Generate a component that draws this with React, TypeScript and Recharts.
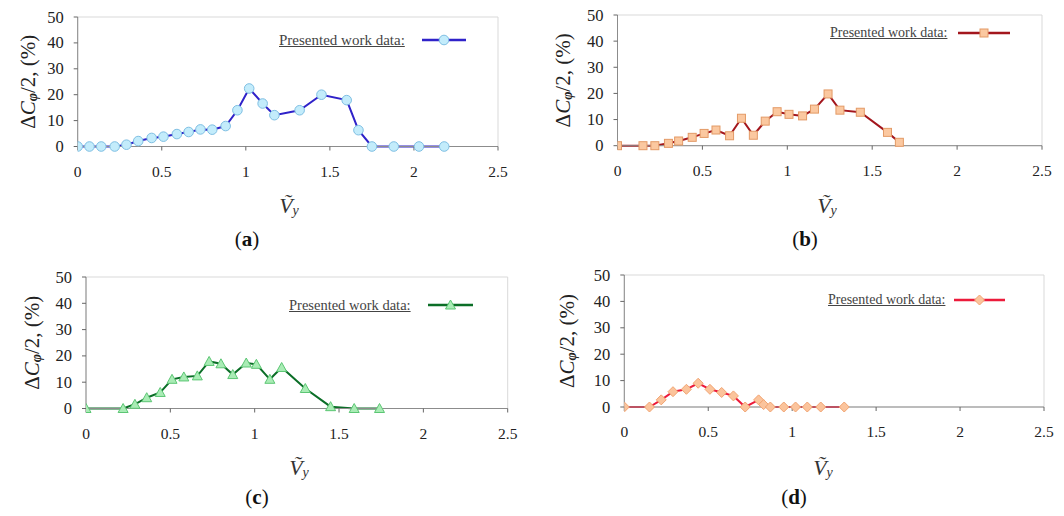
import React from 'react';
import { LineChart, Line, XAxis, YAxis, ReferenceArea } from 'recharts';

// ΔCφ/2 (%) against normalised velocity Ṽy, four test cases
const vyA = [0, 0.07, 0.14, 0.22, 0.29, 0.36, 0.44, 0.51, 0.59, 0.66, 0.73, 0.8, 0.88, 0.95, 1.02, 1.1, 1.17, 1.32, 1.45, 1.6, 1.67, 1.75, 1.88, 2.03, 2.18];
const dcA = [0, 0, 0, 0, 0.7, 2.1, 3.3, 3.8, 4.8, 5.6, 6.6, 6.5, 7.9, 14, 22.4, 16.6, 12.1, 14, 20, 17.9, 6.3, 0, 0, 0, 0];

const vyB = [0, 0.15, 0.22, 0.3, 0.36, 0.44, 0.51, 0.58, 0.66, 0.73, 0.8, 0.87, 0.94, 1.01, 1.09, 1.16, 1.24, 1.31, 1.43, 1.59, 1.66];
const dcB = [0, 0, 0, 0.9, 1.8, 3.2, 4.7, 6.0, 3.8, 10.5, 4.0, 9.4, 13, 12, 11.4, 14, 19.8, 13.6, 12.8, 5.1, 1.3];

const vyC = [0, 0.22, 0.29, 0.36, 0.44, 0.51, 0.58, 0.66, 0.73, 0.8, 0.87, 0.95, 1.01, 1.09, 1.16, 1.3, 1.45, 1.59, 1.74];
const dcC = [0, 0, 1.6, 4.1, 6.1, 11.1, 12, 12.4, 17.9, 17, 12.9, 17.3, 16.8, 11.1, 15.6, 7.6, 0.7, 0, 0];

const vyD = [0, 0.15, 0.22, 0.29, 0.37, 0.44, 0.51, 0.58, 0.65, 0.72, 0.8, 0.83, 0.87, 0.95, 1.02, 1.09, 1.17, 1.31];
const dcD = [0, 0, 2.7, 5.8, 6.7, 9, 6.7, 5.5, 4.2, 0, 2.7, 0.9, 0, 0, 0, 0, 0, 0];

const xTicks = [0, 0.5, 1, 1.5, 2, 2.5];
const yTicks = [0, 10, 20, 30, 40, 50];
const legendText = 'Presented work data:';

const FONT = '"Liberation Serif", "Times New Roman", serif';
const Y_AXIS_W = 50;
const X_AXIS_H = 30;

type Marker = 'circle' | 'square' | 'triangle' | 'diamond';

const drawMarker = (shape: Marker, cx: number, cy: number, fill: string, stroke: string, key?: string | number) => {
  switch (shape) {
    case 'square':
      return <rect key={key} x={cx - 4} y={cy - 4} width={8} height={8} fill={fill} stroke={stroke} strokeWidth={1} />;
    case 'triangle':
      return (
        <polygon key={key} points={`${cx},${cy - 5} ${cx + 5},${cy + 4} ${cx - 5},${cy + 4}`}
          fill={fill} stroke={stroke} strokeWidth={1} />
      );
    case 'diamond':
      return (
        <polygon key={key} points={`${cx},${cy - 5} ${cx + 5},${cy} ${cx},${cy + 5} ${cx - 5},${cy}`}
          fill={fill} stroke={stroke} strokeWidth={1} />
      );
    default:
      return <circle key={key} cx={cx} cy={cy} r={4.8} fill={fill} stroke={stroke} strokeWidth={1} />;
  }
};

// serif tick labels, drawn by hand so the font sticks
const XTick = ({ x, y, payload }: any) => (
  <text x={x} y={y + 24} textAnchor="middle" fontFamily={FONT} fontSize={15.5} fill="#222">
    {String(payload.value)}
  </text>
);

const YTick = ({ x, y, payload }: any) => (
  <text x={x - 1} y={y + 5.5} textAnchor="end" fontFamily={FONT} fontSize={16.5} fill="#222">
    {String(payload.value)}
  </text>
);

interface PanelProps {
  vy: number[];
  dc: number[];
  letter: string;
  left: number;
  top: number;
  plot: { l: number; t: number; r: number; b: number };
  line: string;
  fill: string;
  edge: string;
  marker: Marker;
  yTitleX: number;
  xTitle: { x: number; y: number };
  caption: { x: number; y: number };
  legend: { x: number; y: number; m1: number; m2: number; size: number };
}

const W = 532;
const H = 258;

const Panel = (p: PanelProps) => {
  const rows = p.vy.map((v, i) => ({ vy: v, dc: p.dc[i] }));
  const plotMid = (p.plot.t + p.plot.b) / 2;

  const yTitle = () => (
    <text
      x={p.yTitleX}
      y={plotMid}
      transform={`rotate(-90 ${p.yTitleX} ${plotMid})`}
      textAnchor="middle"
      dominantBaseline="central"
      fontFamily={FONT}
      fontSize={21}
      fill="#222"
    >
      Δ<tspan fontStyle="italic">C</tspan>
      <tspan fontStyle="italic" fontWeight="bold" fontSize={14} dy={4}>φ</tspan>
      <tspan dy={-4}>/2, (%)</tspan>
    </text>
  );

  const xTitle = () => (
    <text x={p.xTitle.x} y={p.xTitle.y} textAnchor="middle" dominantBaseline="central"
      fontFamily={FONT} fontSize={22} fill="#333">
      <tspan fontStyle="italic">V&#x0303;</tspan>
      <tspan fontStyle="italic" fontSize={14} dy={5}>y</tspan>
    </text>
  );

  const legendW = p.legend.m2 - p.legend.m1;

  return (
    <div style={{ position: 'absolute', left: p.left, top: p.top, width: W, height: H, fontFamily: FONT }}>
      <LineChart
        width={W}
        height={H}
        data={rows}
        margin={{
          top: p.plot.t,
          right: W - p.plot.r,
          left: p.plot.l - Y_AXIS_W,
          bottom: H - p.plot.b - X_AXIS_H,
        }}
      >
        <ReferenceArea x1={0} x2={2.5} y1={0} y2={50} fill="none" stroke="#d9d9d9" strokeWidth={1} />
        <XAxis
          type="number"
          dataKey="vy"
          domain={[0, 2.5]}
          ticks={xTicks}
          allowDataOverflow
          height={X_AXIS_H}
          tickSize={4}
          tickMargin={2}
          axisLine={{ stroke: '#8c8c8c' }}
          tickLine={{ stroke: '#666' }}
          tick={<XTick />}
          label={{ content: xTitle }}
        />
        <YAxis
          type="number"
          domain={[0, 50]}
          ticks={yTicks}
          width={Y_AXIS_W}
          tickSize={4}
          tickMargin={9}
          axisLine={{ stroke: '#8c8c8c' }}
          tickLine={{ stroke: '#666' }}
          tick={<YTick />}
          label={{ content: yTitle }}
        />
        <Line
          type="linear"
          dataKey="dc"
          stroke={p.line}
          strokeWidth={2}
          isAnimationActive={false}
          activeDot={false}
          dot={(d: any) => drawMarker(p.marker, d.cx, d.cy, p.fill, p.edge, d.index)}
        />
      </LineChart>

      <div
        style={{
          position: 'absolute',
          left: p.legend.x,
          top: p.legend.y - 10,
          fontFamily: FONT,
          fontSize: p.legend.size,
          color: '#444',
          textDecoration: 'underline',
          whiteSpace: 'nowrap',
          lineHeight: '20px',
        }}
      >
        {legendText}
      </div>
      <svg
        width={legendW}
        height={14}
        style={{ position: 'absolute', left: p.legend.m1, top: p.legend.y - 7 }}
      >
        <line x1={0} y1={7} x2={legendW} y2={7} stroke={p.line} strokeWidth={2.5} />
        {drawMarker(p.marker, legendW / 2, 7, p.fill, p.edge)}
      </svg>

      <div
        style={{
          position: 'absolute',
          left: p.caption.x - 40,
          top: p.caption.y - 13,
          width: 80,
          textAlign: 'center',
          fontFamily: FONT,
          fontSize: 21,
          lineHeight: '26px',
          color: '#111',
        }}
      >
        (<b>{p.letter}</b>)
      </div>
    </div>
  );
};

const App = () => (
  <div style={{ position: 'absolute', left: 0, top: 0, width: 1064, height: 516, background: '#fff' }}>
    <Panel
      vy={vyA} dc={dcA} letter="a" left={0} top={0}
      plot={{ l: 77.7, t: 17, r: 498, b: 146.5 }}
      line="#2f22c9" fill="#c3ecfb" edge="#7fbfe3" marker="circle"
      yTitleX={28} xTitle={{ x: 289, y: 205 }} caption={{ x: 247, y: 239 }}
      legend={{ x: 279, y: 40, m1: 422, m2: 466, size: 15 }}
    />
    <Panel
      vy={vyB} dc={dcB} letter="b" left={532} top={0}
      plot={{ l: 85.5, t: 15, r: 510, b: 145.7 }}
      line="#a3161d" fill="#fbc8a0" edge="#e39a66" marker="square"
      yTitleX={31} xTitle={{ x: 295, y: 205 }} caption={{ x: 273, y: 239 }}
      legend={{ x: 298, y: 33, m1: 426, m2: 478, size: 14 }}
    />
    <Panel
      vy={vyC} dc={dcC} letter="c" left={0} top={258}
      plot={{ l: 86, t: 19, r: 507.7, b: 150.5 }}
      line="#0b6e27" fill="#a9ecb5" edge="#5cc674" marker="triangle"
      yTitleX={32} xTitle={{ x: 299, y: 209 }} caption={{ x: 257, y: 239 }}
      legend={{ x: 289, y: 47, m1: 428, m2: 473, size: 14.5 }}
    />
    <Panel
      vy={vyD} dc={dcD} letter="d" left={532} top={258}
      plot={{ l: 92.3, t: 17, r: 512, b: 149 }}
      line="#ec1b3b" fill="#fbc49c" edge="#f1a472" marker="diamond"
      yTitleX={35} xTitle={{ x: 291, y: 209 }} caption={{ x: 262, y: 239 }}
      legend={{ x: 296, y: 42, m1: 422, m2: 473, size: 14 }}
    />
  </div>
);

export default App;
